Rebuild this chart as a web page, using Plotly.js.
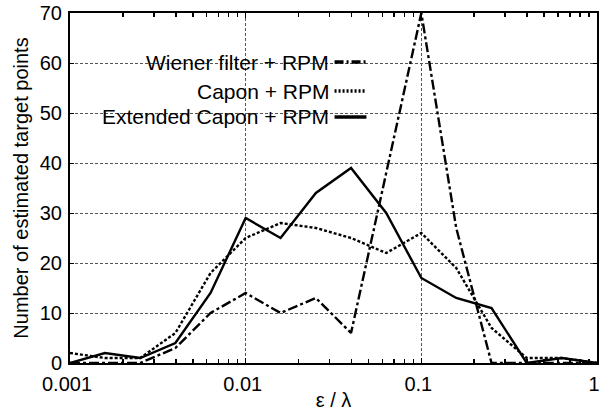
<!DOCTYPE html>
<html><head><meta charset="utf-8">
<script src="https://cdn.plot.ly/plotly-3.0.1.min.js"></script>
<style>html,body{margin:0;padding:0;background:#fff}#chart{width:600px;height:411px}</style>
</head><body><div id="chart"></div>
<script>
const epsOverLambda = [0.001, 0.00158, 0.00251, 0.00398, 0.00631, 0.01, 0.0158, 0.0251, 0.0398, 0.0631, 0.1, 0.158, 0.251, 0.398, 0.631, 1];
const wienerRPM   = [0, 0, 0, 3, 10, 14, 10, 13, 6, 38, 70, 27, 0, 0, 0, 0];
const caponRPM    = [2, 1, 1, 6, 18, 25, 28, 27, 25, 22, 26, 19, 7, 1, 1, 0];
const extCaponRPM = [0, 2, 1, 4, 14, 29, 25, 34, 39, 30, 17, 13, 11, 0, 1, 0];
const seriesNames = ["Wiener filter + RPM", "Capon + RPM", "Extended Capon + RPM"];
const yTicks = [0, 10, 20, 30, 40, 50, 60, 70];

const dashes = ["10px,3px,3px,3px", "3px,2px", "solid"];
const ys = [wienerRPM, caponRPM, extCaponRPM];
const traces = ys.map((y, i) => ({
  x: epsOverLambda, y: y, type: "scatter", mode: "lines", name: seriesNames[i],
  line: {color: "#000", width: 2.4, dash: dashes[i]}, showlegend: false
}));

const font = {family: "Liberation Sans, Arial, sans-serif", size: 20, color: "#000"};
const legFont = {family: "Liberation Sans, Arial, sans-serif", size: 21, color: "#000"};
const legY = [0.86, 0.777, 0.703];
const annotations = seriesNames.map((n, i) => ({
  xref: "paper", yref: "paper", x: 0.4955, y: legY[i], xanchor: "right", yanchor: "middle",
  text: n, showarrow: false, font: legFont
}));
const shapes = [{type: "rect", xref: "paper", yref: "paper", x0: 0.057, x1: 0.587, y0: 0.651, y1: 0.937,
  fillcolor: "#fff", line: {width: 0}, layer: "between"}];
seriesNames.forEach((n, i) => shapes.push({
  type: "line", xref: "paper", yref: "paper", x0: 0.502, x1: 0.5625, y0: legY[i], y1: legY[i],
  line: {color: "#000", width: 3.5, dash: i === 0 ? "9px,3px,2px,3px" : (i === 1 ? "2px,2px" : "solid")}, layer: "above"
}));

const layout = {
  width: 600, height: 411,
  margin: {l: 70, r: 3, t: 13, b: 48},
  paper_bgcolor: "#fff", plot_bgcolor: "#fff",
  font: font,
  showlegend: false,
  xaxis: {
    type: "log", range: [-3, 0], tickmode: "linear", tick0: 0, dtick: 1,
    ticks: "inside", ticklen: 5, tickcolor: "#000",
    ticklabeloverflow: "allow", ticklabelstandoff: 2, ticklabelshift: -3,
    showline: true, linecolor: "#000", linewidth: 2, mirror: "ticks",
    showgrid: true, gridcolor: "#555", griddash: "3px,2px", gridwidth: 1,
    zeroline: false,
    minor: {ticks: "inside", ticklen: 4, tickcolor: "#000", tickwidth: 1.5, showgrid: false},
    title: {text: "ε / λ", font: font, standoff: 2},
    tickfont: font
  },
  yaxis: {
    range: [0, 70], tickmode: "array", tickvals: yTicks,
    ticks: "inside", ticklen: 4, tickcolor: "#000",
    showline: true, linecolor: "#000", linewidth: 2, mirror: "ticks",
    showgrid: true, gridcolor: "#555", griddash: "3px,2px", gridwidth: 1,
    zeroline: false, ticklabelstandoff: 2,
    title: {text: "Number of estimated target points", font: font, standoff: 6},
    tickfont: font
  },
  annotations: annotations,
  shapes: shapes
};
Plotly.newPlot("chart", traces, layout, {staticPlot: true});
</script></body></html>
